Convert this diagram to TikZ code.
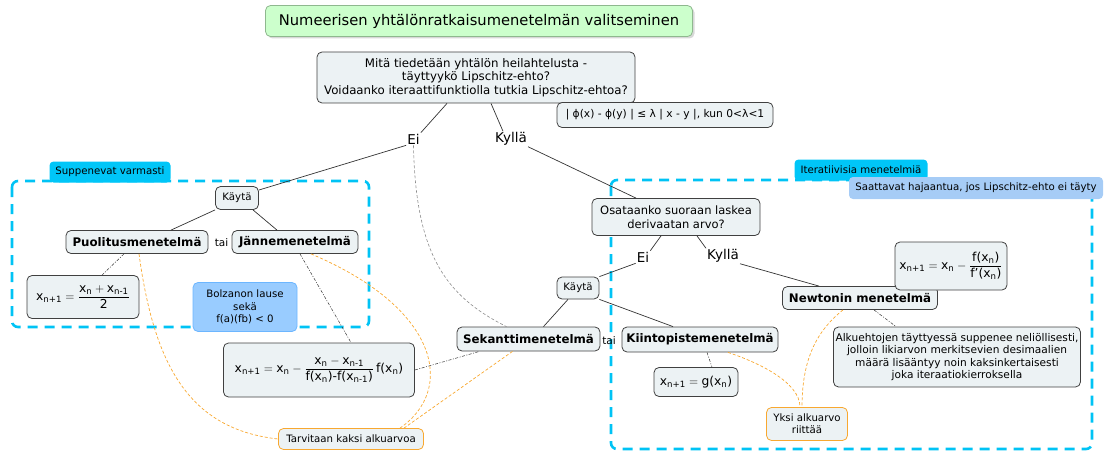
\documentclass[tikz,border=0pt]{standalone}
\usepackage{fontspec}
\usepackage{amsmath}
\setmainfont{DejaVu Sans}
\usetikzlibrary{positioning,shadows}
\definecolor{nodefill}{HTML}{ECF2F4}
\definecolor{cyanline}{HTML}{00C3F5}
\definecolor{cyanfill}{HTML}{00C6F8}
\definecolor{bluefill}{HTML}{99CCFF}
\definecolor{blueline}{HTML}{6CB6FF}
\definecolor{paleblue}{HTML}{A6CCF6}
\definecolor{titlefill}{HTML}{CCFFCC}
\definecolor{titleline}{HTML}{8FB88F}
\definecolor{orangeline}{HTML}{F8A830}
\newcommand{\vx}[1]{\text{x}_{\text{#1}}}
\newcommand{\fof}[2]{\text{#1(}#2\text{)}}

\begin{document}
\begin{tikzpicture}[x=1pt,y=-1pt]
        \tikzstyle{box}=[rectangle, rounded corners=5pt, draw=black!75, fill=nodefill, line width=0.8pt, align=center, inner sep=2pt, font=\fontsize{11.8}{13.5}\selectfont]
        \tikzstyle{method}=[box, font=\fontsize{11.8}{13}\selectfont\bfseries]
        \tikzstyle{small}=[box, font=\fontsize{10.2}{12.3}\selectfont]
        \tikzstyle{formula}=[box, font=\fontsize{12.3}{14}\selectfont]
        \tikzstyle{note}=[small, draw=orangeline]
        \tikzstyle{answer}=[inner sep=1pt, font=\fontsize{13.5}{15}\selectfont]
        \tikzstyle{tag}=[rectangle, rounded corners=4pt, inner sep=2pt, font=\fontsize{10.2}{12}\selectfont]
        \tikzstyle{group}=[draw=cyanline, line width=2.6pt, dash pattern=on 10pt off 7pt, rounded corners=6pt]
        \tikzstyle{connect}=[black!80, line width=0.7pt]
        \tikzstyle{detail}=[black!80, line width=0.5pt, dash pattern=on 3pt off 1.5pt on 1pt off 1.5pt]
        \tikzstyle{hint}=[orangeline, line width=0.7pt, dash pattern=on 3pt off 2pt]
        \useasboundingbox (0,0) rectangle (1104,452);
        % groups
        \draw[group] (12,181) rectangle (369,327);
        \draw[group] (611,180) rectangle (1092,449);
        \node[tag, fill=cyanfill, minimum width=121pt, minimum height=21pt] (supp) at (110,172) {Suppenevat varmasti};
        \node[tag, fill=cyanfill, minimum width=133pt, minimum height=21pt] (iter) at (861,170) {Iteratiivisia menetelmiä};
        \node[tag, fill=paleblue, minimum width=254pt, minimum height=22pt] (diverge) at (976,188) {Saattavat hajaantua, jos Lipschitz-ehto ei täyty};
        % title and first question
        \node[box, fill=titlefill, draw=titleline, minimum width=427pt, minimum height=31pt, font=\fontsize{14.7}{16}\selectfont, drop shadow={shadow xshift=2pt, shadow yshift=-2pt, fill=black!30}] (title) at (479,21) {Numeerisen yhtälönratkaisumenetelmän valitseminen};
        \node[box, minimum width=318pt, minimum height=51pt] (q1) at (476,77.5) {Mitä tiedetään yhtälön heilahtelusta -\\täyttyykö Lipschitz-ehto?\\Voidaanko iteraattifunktiolla tutkia Lipschitz-ehtoa?};
        \node[small, font=\fontsize{10.7}{12}\selectfont, minimum width=216pt, minimum height=25pt] (lip) at (665,115) {| ϕ(x) - ϕ(y) | ≤ λ | x - y |, kun 0<λ<1};
        \node[answer] (ei) at (413.5,139) {Ei};
        \node[answer] (kylla) at (511,139) {Kyllä};
        % left branch
        \node[small, minimum width=43pt, minimum height=23pt] (kayta1) at (237,198) {Käytä};
        \node[method, minimum width=142pt, minimum height=23pt] (puol) at (137,242) {Puolitusmenetelmä};
        \node[inner sep=1pt, font=\fontsize{10.5}{12}\selectfont] (tai1) at (221.5,243) {tai};
        \node[method, minimum width=126pt, minimum height=23pt] (janne) at (295,242) {Jännemenetelmä};
        \node[formula, minimum width=112pt, minimum height=43pt] (f1) at (83,297) {$\vx{n+1}=\dfrac{\vx{n}+\vx{n-1}}{\text{2}}$};
        \node[small, fill=bluefill, draw=blueline, minimum width=104pt, minimum height=49pt] (bolz) at (245,307) {Bolzanon lause\\sekä\\f(a)(fb) < 0};
        \node[formula, minimum width=191pt, minimum height=54pt] (f2) at (319,370) {$\vx{n+1}=\vx{n}-\dfrac{\vx{n}-\vx{n-1}}{\fof{f}{\vx{n}}\text{-}\fof{f}{\vx{n-1}}}\,\fof{f}{\vx{n}}$};
        \node[note, minimum width=145pt, minimum height=21pt] (tarv) at (351,439) {Tarvitaan kaksi alkuarvoa};
        % right branch
        \node[box, minimum width=168pt, minimum height=37pt, font=\fontsize{11.5}{14}\selectfont] (osat) at (676,217) {Osataanko suoraan laskea\\derivaatan arvo?};
        \node[answer] (ei2) at (643,257) {Ei};
        \node[answer] (kylla2) at (723,256) {Kyllä};
        \node[small, minimum width=42pt, minimum height=22pt] (kayta2) at (578,288) {Käytä};
        \node[method, minimum width=143pt, minimum height=24pt] (sek) at (528.5,339) {Sekanttimenetelmä};
        \node[inner sep=1pt, font=\fontsize{10.5}{12}\selectfont] (tai2) at (609,341) {tai};
        \node[method, minimum width=156pt, minimum height=25pt] (kiinto) at (700,339.5) {Kiintopistemenetelmä};
        \node[formula, minimum width=84pt, minimum height=29pt] (f3) at (696,382) {$\vx{n+1}=\fof{g}{\vx{n}}$};
        \node[method, minimum width=155pt, minimum height=23pt] (newton) at (860,298) {Newtonin menetelmä};
        \node[formula, minimum width=112pt, minimum height=48pt] (f4) at (951,266) {$\vx{n+1}=\vx{n}-\dfrac{\fof{f}{\vx{n}}}{\fof{f'}{\vx{n}}}$};
        \node[small, font=\fontsize{10.6}{12.4}\selectfont, minimum width=244pt, minimum height=60pt] (alku) at (957,357) {Alkuehtojen täyttyessä suppenee neliöllisesti,\\jolloin likiarvon merkitsevien desimaalien\\määrä lisääntyy noin kaksinkertaisesti\\joka iteraatiokierroksella};
        \node[note, minimum width=81pt, minimum height=33pt] (yksi) at (807,424) {Yksi alkuarvo\\riittää};
        % connectors
        \draw[connect] ([xshift=-29pt]q1.south) -- (ei.north east);
        \draw[connect] ([xshift=15pt]q1.south) -- ([xshift=-8pt]kylla.north);
        \draw[connect] (ei.south west) -- (kayta1.20);
        \draw[connect] (kylla.south east) -- ([xshift=-40pt]osat.north);
        \draw[connect] (kayta1.south west) -- ([xshift=34pt]puol.north);
        \draw[connect] ([xshift=16pt]kayta1.south) -- ([xshift=-18pt]janne.north);
        \draw[connect] ([xshift=-15pt]osat.south) -- (ei2.north east);
        \draw[connect] ([xshift=21pt]osat.south) -- (kylla2.north west);
        \draw[connect] (ei2.south west) -- (kayta2.north east);
        \draw[connect] (kylla2.south east) -- ([xshift=-41pt]newton.north);
        \draw[connect] ([xshift=-10pt]kayta2.south) -- ([xshift=15pt]sek.north);
        \draw[connect] (kayta2.south east) -- ([xshift=-27pt]kiinto.north);
        % formulas
        \draw[detail] ([xshift=-13pt]puol.south) -- ([xshift=19pt]f1.north);
        \draw[detail] ([xshift=5pt]janne.south) -- ([xshift=32pt]f2.north);
        \draw[detail] (f2.east) -- ([xshift=-49pt]sek.south);
        \draw[detail] ([xshift=7pt]kiinto.south) -- ([xshift=16pt]f3.north);
        \draw[detail] ([xshift=14pt]newton.south) -- ([xshift=-61pt]alku.north);
        % hints
        \draw[black!45, line width=0.6pt, dash pattern=on 3pt off 2pt] (ei.south) .. controls +(2,110) and +(-60,-30) .. ([xshift=-22pt]sek.north);
        \draw[hint] ([xshift=2pt]puol.south) .. controls +(15,110) and +(-90,-10) .. (tarv.west);
        \draw[hint] ([xshift=16pt]janne.south) .. controls +(130,55) and +(55,-38) .. ([xshift=49pt]tarv.north);
        \draw[hint] ([xshift=-16pt]sek.south) -- ([xshift=53pt]tarv.north);
        \draw[hint] ([xshift=28pt]kiinto.south) .. controls +(30,10) and +(0,-25) .. ([xshift=-7pt]yksi.north);
        \draw[hint] ([xshift=-17pt]newton.south) .. controls +(-25,20) and +(0,-50) .. ([xshift=-5pt]yksi.north);
\end{tikzpicture}
\end{document}
